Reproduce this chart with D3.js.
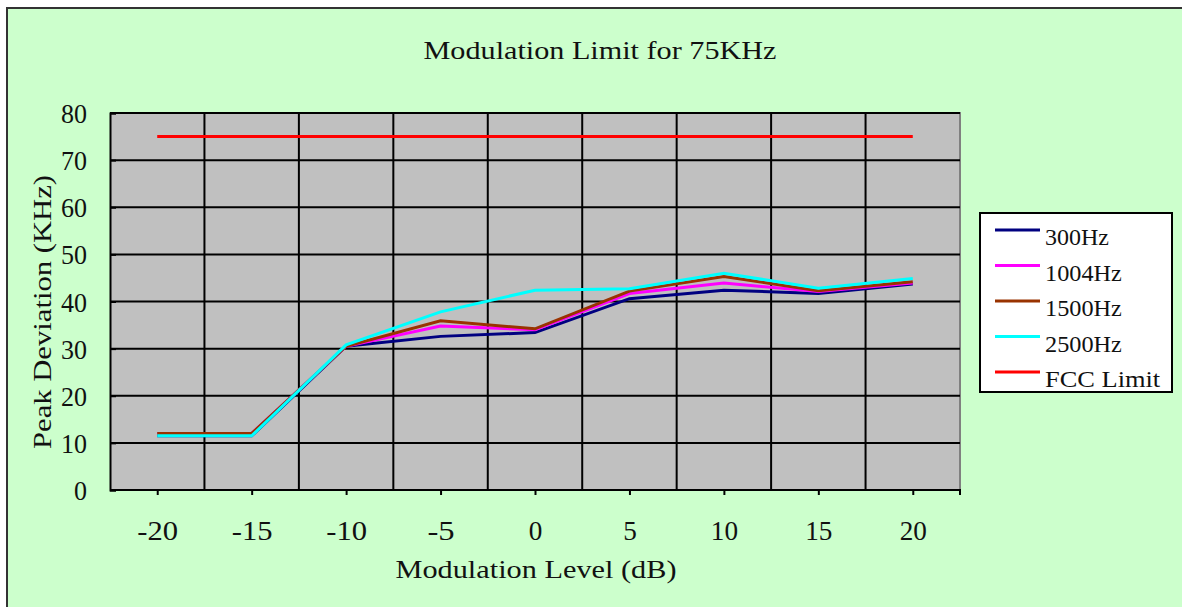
<!DOCTYPE html>
<html><head><meta charset="utf-8">
<script src="https://cdn.jsdelivr.net/npm/d3@7"></script>
<style>
html,body{margin:0;padding:0;background:#fff;}
svg{display:block;}
text{font-family:"Liberation Serif","DejaVu Serif",serif;fill:#111;}
</style></head>
<body>
<svg id="c" width="1182" height="607"></svg>
<script>
const categories = [-20, -15, -10, -5, 0, 5, 10, 15, 20];
const xTickLabels = ["-20","-15","-10","-5","0","5","10","15","20"];
const yTicks = [0,10,20,30,40,50,60,70,80];
const s300  = [11.5, 11.5, 30.5, 32.6, 33.4, 40.6, 42.4, 41.7, 43.7];
const s1004 = [12.0, 12.0, 30.5, 34.8, 34.0, 41.7, 43.9, 42.1, 43.9];
const s1500 = [12.0, 12.0, 30.5, 35.9, 34.2, 42.2, 45.3, 42.3, 44.2];
const s2500 = [11.5, 11.5, 30.8, 37.8, 42.4, 42.7, 46.0, 42.8, 44.9];
const fcc   = [75, 75, 75, 75, 75, 75, 75, 75, 75];
const seriesNames = ["300Hz","1004Hz","1500Hz","2500Hz","FCC Limit"];
const seriesColors = ["#000080","#FF00FF","#993300","#00FFFF","#FF0000"];
const seriesData = [s300, s1004, s1500, s2500, fcc];

const svg = d3.select("#c");
svg.append("rect").attr("x",7).attr("y",8).attr("width",1190).attr("height",620)
  .attr("fill","#CCFFCC").attr("stroke","#333").attr("stroke-width",2);

const L=110, R=960, T=113, B=490;
const x = d3.scalePoint().domain(categories).range([L,R]).padding(0.5);
const xb = d3.scaleBand().domain(categories).range([L,R]);
const y = d3.scaleLinear().domain([0,80]).range([B,T]);

svg.append("rect").attr("x",L).attr("y",T).attr("width",R-L).attr("height",B-T)
  .attr("fill","#C0C0C0");
svg.append("path").attr("d",`M${L},${T}H${R}V${B}`).attr("fill","none")
  .attr("stroke","#808080").attr("stroke-width",2);

svg.append("g").selectAll("line").data(yTicks.filter(d=>d>0)).join("line")
  .attr("x1",L).attr("x2",R).attr("y1",d=>y(d)).attr("y2",d=>y(d))
  .attr("stroke","#000").attr("stroke-width",2);
svg.append("g").selectAll("line").data(categories.slice(1)).join("line")
  .attr("x1",d=>xb(d)).attr("x2",d=>xb(d)).attr("y1",T).attr("y2",B)
  .attr("stroke","#000").attr("stroke-width",2);

const yAxis = d3.axisLeft(y).tickValues(yTicks).tickSize(-6).tickFormat(d3.format("d"));
const gy = svg.append("g").attr("transform",`translate(${L},0)`).call(yAxis);
gy.select(".domain").attr("stroke","#000").attr("stroke-width",2);
gy.selectAll(".tick line").attr("stroke","#000").attr("stroke-width",2);
gy.selectAll(".tick text").attr("font-size",28).attr("font-family","Liberation Serif").attr("fill","#111")
  .attr("x",-23).attr("dy","0.34em")
  .attr("textLength",function(){return this.textContent.length*13;}).attr("lengthAdjust","spacingAndGlyphs");

const xAxis = d3.axisBottom(x).tickSize(5).tickFormat((d,i)=>xTickLabels[i]);
const gx = svg.append("g").attr("transform",`translate(0,${B})`).call(xAxis);
gx.select(".domain").attr("d",`M${L},0H${R}V5`).attr("stroke","#000").attr("stroke-width",2);
gx.selectAll(".tick line").attr("stroke","#000").attr("stroke-width",2);
gx.selectAll(".tick text").attr("font-size",28).attr("font-family","Liberation Serif").attr("fill","#111")
  .attr("dy",0).attr("y",50)
  .attr("textLength",function(){return this.textContent.length*13.6;}).attr("lengthAdjust","spacingAndGlyphs");

const line = d3.line().x((d,i)=>x(categories[i])).y(d=>y(d));
seriesData.forEach((s,k)=>{
  svg.append("path").datum(s).attr("d",line).attr("fill","none")
    .attr("stroke",seriesColors[k]).attr("stroke-width",3).attr("stroke-linejoin","miter");
});

svg.append("text").attr("x",600).attr("y",59).attr("text-anchor","middle")
  .attr("font-size",26).attr("textLength",353).attr("lengthAdjust","spacingAndGlyphs")
  .text("Modulation Limit for 75KHz");
svg.append("text").attr("x",536).attr("y",578).attr("text-anchor","middle")
  .attr("font-size",26).attr("textLength",281).attr("lengthAdjust","spacingAndGlyphs")
  .text("Modulation Level (dB)");
svg.append("text").attr("transform","translate(51,312) rotate(-90)").attr("text-anchor","middle")
  .attr("font-size",26).attr("textLength",274).attr("lengthAdjust","spacingAndGlyphs")
  .text("Peak Deviation (KHz)");

const lg = svg.append("g");
lg.append("rect").attr("x",980).attr("y",213).attr("width",192).attr("height",179)
  .attr("fill","#fff").attr("stroke","#000").attr("stroke-width",2);
seriesNames.forEach((n,i)=>{
  const yy = 230 + i*35.5;
  lg.append("line").attr("x1",995).attr("x2",1040).attr("y1",yy).attr("y2",yy)
    .attr("stroke",seriesColors[i]).attr("stroke-width",3);
  lg.append("text").attr("x",1045).attr("y",yy+15).attr("font-size",24)
    .attr("textLength",n.length*12.8).attr("lengthAdjust","spacingAndGlyphs").text(n);
});
</script>
</body></html>
